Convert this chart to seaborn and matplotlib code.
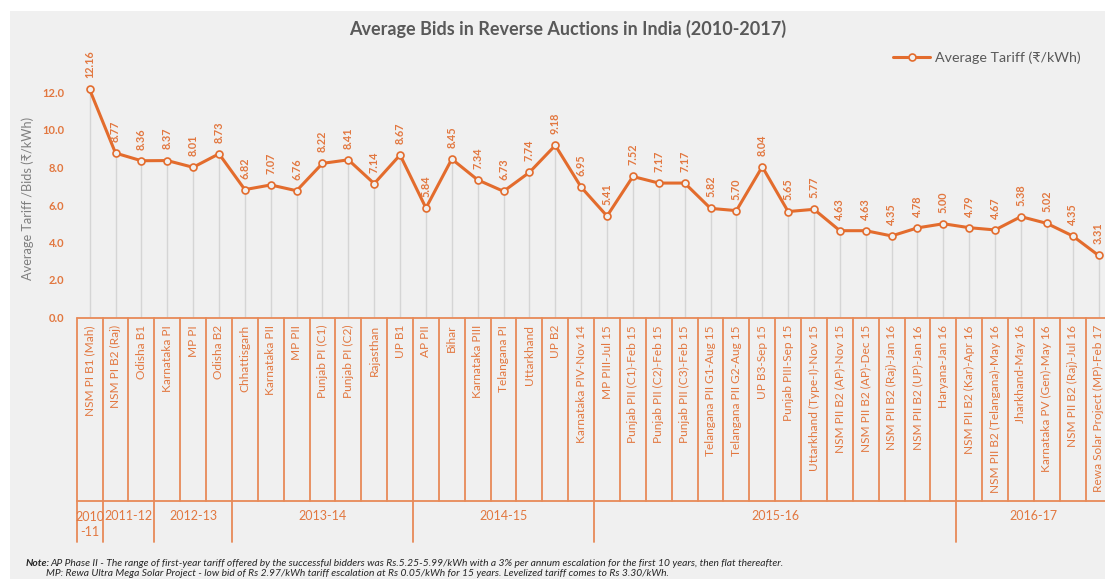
import matplotlib
matplotlib.use("Agg")
import matplotlib.pyplot as plt
from matplotlib.patches import Rectangle
import numpy as np
import pandas as pd
import seaborn as sns

# ---- data -------------------------------------------------------------
projects = [
    "NSM PI B1 (Mah)", "NSM PI B2 (Raj)", "Odisha B1", "Karnataka PI", "MP PI",
    "Odisha B2", "Chhattisgarh", "Karnataka PII", "MP PII", "Punjab PI (C1)",
    "Punjab PI (C2)", "Rajasthan", "UP B1", "AP PII", "Bihar", "Karnataka PIII",
    "Telangana PI", "Uttarkhand", "UP B2", "Karnataka PIV-Nov 14",
    "MP PIII-Jul 15", "Punjab PII (C1)-Feb 15", "Punjab PII (C2)-Feb 15",
    "Punjab PII (C3)-Feb 15", "Telangana PII G1-Aug 15", "Telangana PII G2-Aug 15",
    "UP B3-Sep 15", "Punjab PIII-Sep 15", "Uttarkhand (Type-I)-Nov 15",
    "NSM PII B2 (AP)-Nov 15", "NSM PII B2 (AP)-Dec 15", "NSM PII B2 (Raj)-Jan 16",
    "NSM PII B2 (UP)-Jan 16", "Haryana-Jan 16", "NSM PII B2 (Kar)-Apr 16",
    "NSM PII B2 (Telangana)-May 16", "Jharkhand-May 16", "Karnataka PV (Gen)-May 16",
    "NSM PII B2 (Raj)-Jul 16", "Rewa Solar Project (MP)-Feb 17",
]
tariffs = [
    12.16, 8.77, 8.36, 8.37, 8.01, 8.73, 6.82, 7.07, 6.76, 8.22,
    8.41, 7.14, 8.67, 5.84, 8.45, 7.34, 6.73, 7.74, 9.18, 6.95,
    5.41, 7.52, 7.17, 7.17, 5.82, 5.70, 8.04, 5.65, 5.77, 4.63,
    4.63, 4.35, 4.78, 5.00, 4.79, 4.67, 5.38, 5.02, 4.35, 3.31,
]
fiscal_years = ["2010\n-11", "2011-12", "2012-13", "2013-14", "2014-15", "2015-16", "2016-17"]
projects_per_year = [1, 2, 3, 7, 7, 14, 6]
y_ticks = [0, 2, 4, 6, 8, 10, 12]

title = "Average Bids in Reverse Auctions in India (2010-2017)"
series_name = "Average Tariff (\u20b9/kWh)"
y_title = "Average Tariff /Bids (\u20b9/kWh)"
note_head = "Note:"
note_lines = [
    "AP Phase II - The range of first-year tariff offered by the successful bidders was "
    "Rs.5.25-5.99/kWh with a 3% per annum escalation for the first 10 years, then flat thereafter.",
    "MP: Rewa Ultra Mega Solar Project - low bid of Rs 2.97/kWh tariff escalation at "
    "Rs 0.05/kWh for 15 years. Levelized tariff comes to Rs 3.30/kWh.",
]

# ---- style ------------------------------------------------------------
LINE = "#E36C2D"
TEXT_OR = "#E2773F"
BOX = "#E88A58"
GREY_TXT = "#595959"
PANEL = "#f0f0f0"

sns.set_style("white")
plt.rcParams["font.family"] = ["Lato", "DejaVu Sans"]

W, H = 1105, 579
fig = plt.figure(figsize=(W / 100, H / 100), dpi=100)
fig.patch.set_facecolor("white")
fig.patches.append(Rectangle((10 / W, 0), 1, (H - 11) / H, transform=fig.transFigure,
                             facecolor=PANEL, edgecolor="none", zorder=-10))

# plot area in pixels
x_left, x_right = 76.7, 1105.0
y_base, y_top = 317.5, 60.0
px_per_unit_y = 18.75
px_per_cat = 25.87

ax = fig.add_axes([x_left / W, 1 - y_base / H, (x_right - x_left) / W, (y_base - y_top) / H])
ax.set_facecolor("none")
n = len(projects)
ax.set_xlim(-0.5, -0.5 + (x_right - x_left) / px_per_cat)
ax.set_ylim(0, (y_base - y_top) / px_per_unit_y)


def ay(py):
    """pixel row (from top) -> axes fraction"""
    return (y_base - py) / (y_base - y_top)


df = pd.DataFrame({"pos": np.arange(n), "tariff": tariffs})

# drop lines from axis to each point
ax.vlines(df["pos"], 0, df["tariff"], color="#d5d5d5", lw=1, zorder=1)

sns.lineplot(data=df, x="pos", y="tariff", ax=ax, color=LINE, linewidth=2.2,
             marker="o", markersize=5, markerfacecolor=PANEL, markeredgecolor=LINE,
             markeredgewidth=1.2, label=series_name, clip_on=False, zorder=3)

# value labels
for i, v in enumerate(tariffs):
    ax.annotate(f"{v:.2f}", (i, v), xytext=(0, 8), textcoords="offset points",
                rotation=90, ha="center", va="bottom", fontsize=7.8,
                fontweight="bold", color=TEXT_OR, annotation_clip=False)

# y axis
ax.set_yticks(y_ticks)
ax.set_yticklabels([f"{t:.1f}" for t in y_ticks], color=TEXT_OR, fontweight="bold", fontsize=8)
ax.tick_params(axis="y", length=0, pad=9)
ax.set_xticks([])
ax.set_xlabel("")
ax.set_ylabel("")
for s in ax.spines.values():
    s.set_visible(False)

fig.text(28 / W, 1 - 198 / H, y_title, rotation=90, ha="center", va="center",
         color="#7f7f7f", fontsize=9.2)

# category table under the axis
xt = ax.get_xaxis_transform()
xl, xr = ax.get_xlim()
row1_top, row1_bot, row2_bot = ay(317.5), ay(501), ay(542)
kw = dict(transform=xt, color=BOX, lw=1.3, clip_on=False, zorder=2)
ax.plot([xl, xr], [row1_top, row1_top], **kw)
ax.plot([xl, xr], [row1_bot, row1_bot], **kw)
for b in np.arange(n + 1) - 0.5:
    ax.plot([b, b], [row1_top, row1_bot], **kw)
bounds = np.concatenate([[0], np.cumsum(projects_per_year)]) - 0.5
for b in bounds:
    ax.plot([b, b], [row1_bot, row2_bot], **kw)

for i, name in enumerate(projects):
    ax.text(i, ay(325), name, transform=xt, rotation=90, ha="center", va="top",
            fontsize=8.6, color=TEXT_OR, clip_on=False)

for k, yr in enumerate(fiscal_years):
    cx = (bounds[k] + bounds[k + 1]) / 2
    if "\n" in yr:
        ax.text(cx, ay(524.5), yr, transform=xt, ha="center", va="center",
                fontsize=9, color=TEXT_OR, linespacing=1.35, clip_on=False)
    else:
        ax.text(cx, ay(516), yr, transform=xt, ha="center", va="center",
                fontsize=9, color=TEXT_OR, clip_on=False)

# title & legend
fig.text(568 / W, 1 - 29 / H, title, ha="center", va="center", fontsize=13,
         fontweight="bold", color=GREY_TXT)
leg = ax.legend(loc="center left", bbox_to_anchor=(893 / W, 1 - 58 / H),
                bbox_transform=fig.transFigure, frameon=False, fontsize=10.3,
                handlelength=2.6, handletextpad=0.35, borderpad=0, borderaxespad=0)
for t in leg.get_texts():
    t.set_color(GREY_TXT)

# footnote
fig.text(26 / W, 1 - 563 / H, note_head, ha="left", va="center", fontsize=7.4,
         fontweight="bold", style="italic", color="#262626")
fig.text(50 / W, 1 - 563 / H, note_lines[0], ha="left", va="center", fontsize=7.4,
         style="italic", color="#262626")
fig.text(46 / W, 1 - 573 / H, note_lines[1], ha="left", va="center", fontsize=7.4,
         style="italic", color="#262626")

fig.savefig("out.png", dpi=100)
